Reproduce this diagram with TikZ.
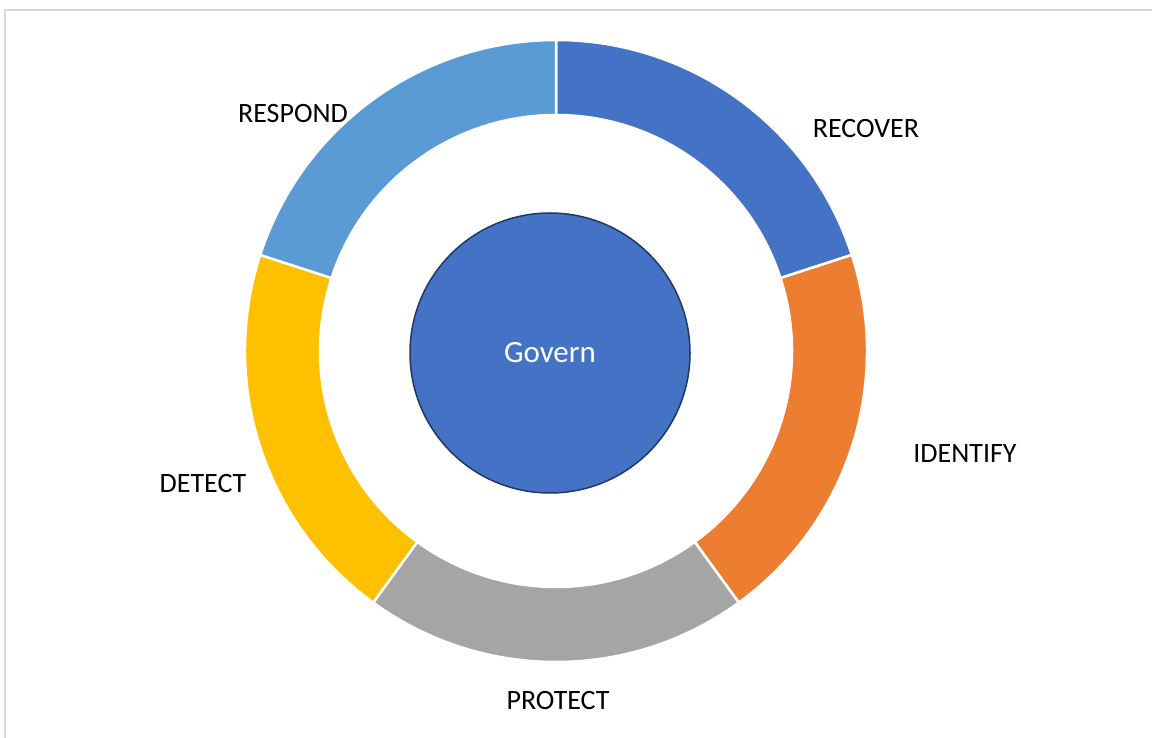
\documentclass[tikz,border=0pt]{standalone}
\usepackage{fontspec}
\setmainfont{Carlito}
\usepackage{tikz}
\definecolor{blue5}{HTML}{4472c4}
\definecolor{blue6}{HTML}{5b9bd5}
\definecolor{orange5}{HTML}{ed7d31}
\definecolor{gray5}{HTML}{a5a5a5}
\definecolor{gold5}{HTML}{ffc000}
\definecolor{navy5}{HTML}{203864}
\definecolor{frame5}{HTML}{d9d9d9}

\begin{document}
\begin{tikzpicture}[x=1pt, y=1pt, align=center,
  ring/.style={draw=white, line width=2.5pt},
  lbl/.style={font=\fontsize{28}{32}\selectfont, text=black, inner sep=0pt},
  govern/.style={circle, draw=navy5, line width=1.5pt, fill=blue5, minimum size=280pt, inner sep=0pt, text=white, font=\fontsize{31}{36}\selectfont}]
\useasboundingbox (0,0) rectangle (1152,737);
\draw[frame5, line width=1.5pt] (5,-5) -- (5,727) -- (1155,727);
\begin{scope}[shift={(556,386)}]
\filldraw[ring, fill=blue5] (90:311) arc[start angle=90, end angle=18, radius=311] -- (18:236) arc[start angle=18, end angle=90, radius=236] -- cycle;
\filldraw[ring, fill=orange5] (18:311) arc[start angle=18, end angle=-54, radius=311] -- (-54:236) arc[start angle=-54, end angle=18, radius=236] -- cycle;
\filldraw[ring, fill=gray5] (-54:311) arc[start angle=-54, end angle=-126, radius=311] -- (-126:236) arc[start angle=-126, end angle=-54, radius=236] -- cycle;
\filldraw[ring, fill=gold5] (-126:311) arc[start angle=-126, end angle=-198, radius=311] -- (-198:236) arc[start angle=-198, end angle=-126, radius=236] -- cycle;
\filldraw[ring, fill=blue6] (162:311) arc[start angle=162, end angle=90, radius=311] -- (90:236) arc[start angle=90, end angle=162, radius=236] -- cycle;
\end{scope}
\node[govern] (gov) at (550,384) {Govern};
\node[lbl] (recover) at (866,608) {RECOVER};
\node[lbl] (identify) at (965,283) {IDENTIFY};
\node[lbl] (protect) at (558,36) {PROTECT};
\node[lbl] (detect) at (203,253) {DETECT};
\node[lbl] (respond) at (293,623) {RESPOND};
\end{tikzpicture}
\end{document}
